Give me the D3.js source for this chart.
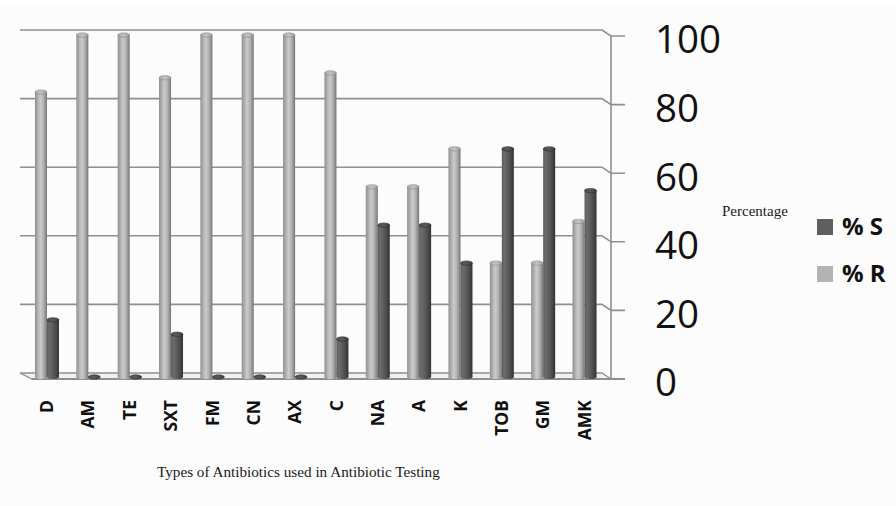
<!DOCTYPE html>
<html>
<head>
<meta charset="utf-8">
<script src="https://cdn.jsdelivr.net/npm/d3@7"></script>
<style>
  html, body { margin: 0; padding: 0; background: #ffffff; }
  svg { display: block; }
</style>
</head>
<body>
<svg id="chart" width="896" height="506"></svg>
<script>
// Antibiotic susceptibility: percentage resistant (% R) and sensitive (% S)
const categories = ["D", "AM", "TE", "SXT", "FM", "CN", "AX", "C", "NA", "A", "K", "TOB", "GM", "AMK"];
const pctR = [83.3, 100, 100, 87.5, 100, 100, 100, 88.9, 55.6, 55.6, 66.7, 33.3, 33.3, 45.5];
const pctS = [16.7, 0, 0, 12.5, 0, 0, 0, 11.1, 44.4, 44.4, 33.3, 66.7, 66.7, 54.5];
const yTicks = [0, 20, 40, 60, 80, 100];
const seriesNames = ["% R", "% S"];

const svg = d3.select("#chart");
const W = 896, H = 506;

svg.append("rect").attr("width", W).attr("height", H).attr("fill", "#fcfcfc");
svg.append("rect").attr("width", W).attr("height", 6).attr("fill", "#ffffff");

// 3D box geometry: front axis plane and back wall (offset up/left)
const depthX = 9, depthY = 6;
const yFront = d3.scaleLinear().domain([0, 100]).range([379, 36]);
const yBack = v => yFront(v) - depthY;
const yBar = d3.scaleLinear().domain([0, 100]).range([377, 35]);
const wallLeft = 20, wallRight = 602, axisX = wallRight + depthX;

const x0 = d3.scaleBand().domain(categories).range([26.3, 605.2]).padding(0);
const x1 = d3.scaleBand().domain(seriesNames).range([-12, 12]).padding(0);

const defs = svg.append("defs");
function cylGrad(id, stops) {
  const g = defs.append("linearGradient").attr("id", id)
    .attr("x1", "0%").attr("x2", "100%").attr("y1", "0%").attr("y2", "0%");
  stops.forEach(([o, c]) => g.append("stop").attr("offset", o).attr("stop-color", c));
}
cylGrad("gR", [["0%", "#8e8e8e"], ["18%", "#a9a9a9"], ["45%", "#cbcbcb"], ["70%", "#b2b2b2"], ["90%", "#8c8c8c"], ["100%", "#6e6e6e"]]);
cylGrad("gS", [["0%", "#5c5c5c"], ["20%", "#6c6c6c"], ["45%", "#5e5e5e"], ["75%", "#4a4a4a"], ["100%", "#333333"]]);
cylGrad("gRtop", [["0%", "#a6a6a6"], ["50%", "#c4c4c4"], ["100%", "#9a9a9a"]]);
cylGrad("gStop", [["0%", "#4e4e4e"], ["50%", "#5a5a5a"], ["100%", "#3a3a3a"]]);

const gridColor = "#8f8f8f";

// Floor
const floorY = yFront(0);
svg.append("path")
  .attr("d", `M${wallLeft},${yBack(0)} L${wallRight},${yBack(0)} L${axisX},${floorY} L${wallLeft + 12},${floorY} Z`)
  .attr("fill", "#f1f1f1").attr("stroke", gridColor).attr("stroke-width", 1.3);

// Back-wall gridlines bending to the axis ticks
svg.append("g").selectAll("path").data(yTicks.filter(t => t > 0)).join("path")
  .attr("d", t => `M${wallLeft},${yBack(t)} L${wallRight},${yBack(t)} L${axisX},${yFront(t)} L${axisX + 14},${yFront(t)}`)
  .attr("fill", "none").attr("stroke", gridColor).attr("stroke-width", 1.6);

// Bottom edge with zero tick
svg.append("line").attr("x1", wallLeft + 12).attr("x2", axisX + 14)
  .attr("y1", floorY).attr("y2", floorY).attr("stroke", gridColor).attr("stroke-width", 1.8);

// Vertical value axis
svg.append("line").attr("x1", axisX).attr("x2", axisX)
  .attr("y1", yFront(100)).attr("y2", yFront(0)).attr("stroke", gridColor).attr("stroke-width", 1.6);

// Bars as cylinders
const rows = categories.map((c, i) => ({ cat: c, vals: [
  { key: "% R", v: pctR[i] }, { key: "% S", v: pctS[i] }
]}));
const groups = svg.append("g").selectAll("g").data(rows).join("g")
  .attr("transform", d => `translate(${x0(d.cat) + x0.bandwidth() / 2},0)`);

groups.each(function(d) {
  const g = d3.select(this);
  d.vals.forEach(b => {
    const bx = x1(b.key), bw = x1.bandwidth();
    const isR = b.key === "% R";
    const top = yBar(b.v), base = yBar(0);
    if (b.v > 0) {
      g.append("rect").attr("x", bx).attr("y", top).attr("width", bw).attr("height", base - top)
        .attr("fill", isR ? "url(#gR)" : "url(#gS)");
      g.append("ellipse").attr("cx", bx + bw / 2).attr("cy", base).attr("rx", bw / 2).attr("ry", 2)
        .attr("fill", isR ? "url(#gR)" : "url(#gS)");
    }
    g.append("ellipse").attr("cx", bx + bw / 2).attr("cy", top).attr("rx", bw / 2).attr("ry", 2.2)
      .attr("fill", isR ? "url(#gRtop)" : "url(#gStop)")
      .attr("stroke", isR ? "#8a8a8a" : "#2e2e2e").attr("stroke-width", 0.6);
  });
});

// Category labels, rotated
svg.append("g").selectAll("text").data(categories).join("text")
  .attr("transform", d => `translate(${x0(d) + x0.bandwidth() / 2},400) rotate(-90)`)
  .attr("text-anchor", "end").attr("dy", "0.35em")
  .attr("font-family", "'Open Sans', sans-serif").attr("font-weight", 700)
  .attr("font-size", 17.5).attr("fill", "#111")
  .text(d => d);

// Value-axis labels
svg.append("g").selectAll("text").data(yTicks).join("text")
  .attr("x", 655).attr("y", t => yFront(t) + 4).attr("dy", "0.35em")
  .attr("font-family", "'Open Sans', sans-serif").attr("font-size", 38.5).attr("fill", "#111")
  .text(t => t);

// Axis titles
svg.append("text").attr("x", 722).attr("y", 216)
  .attr("font-family", "'Liberation Serif', serif").attr("font-size", 15).attr("fill", "#1a1a1a")
  .text("Percentage");
svg.append("text").attr("x", 157).attr("y", 477)
  .attr("font-family", "'Liberation Serif', serif").attr("font-size", 15.2).attr("fill", "#1a1a1a")
  .text("Types of Antibiotics used in Antibiotic Testing");

// Legend
const legend = [{ key: "% S", c: "#5f5f5f", y: 219 }, { key: "% R", c: "#b3b3b3", y: 266 }];
const lg = svg.append("g").selectAll("g").data(legend).join("g")
  .attr("transform", d => `translate(817,${d.y})`);
lg.append("rect").attr("width", 16).attr("height", 16).attr("fill", d => d.c);
lg.append("text").attr("x", 25).attr("y", 16)
  .attr("font-family", "'Open Sans', sans-serif").attr("font-weight", 700).attr("font-size", 24).attr("fill", "#111")
  .text(d => d.key);
</script>
</body>
</html>
